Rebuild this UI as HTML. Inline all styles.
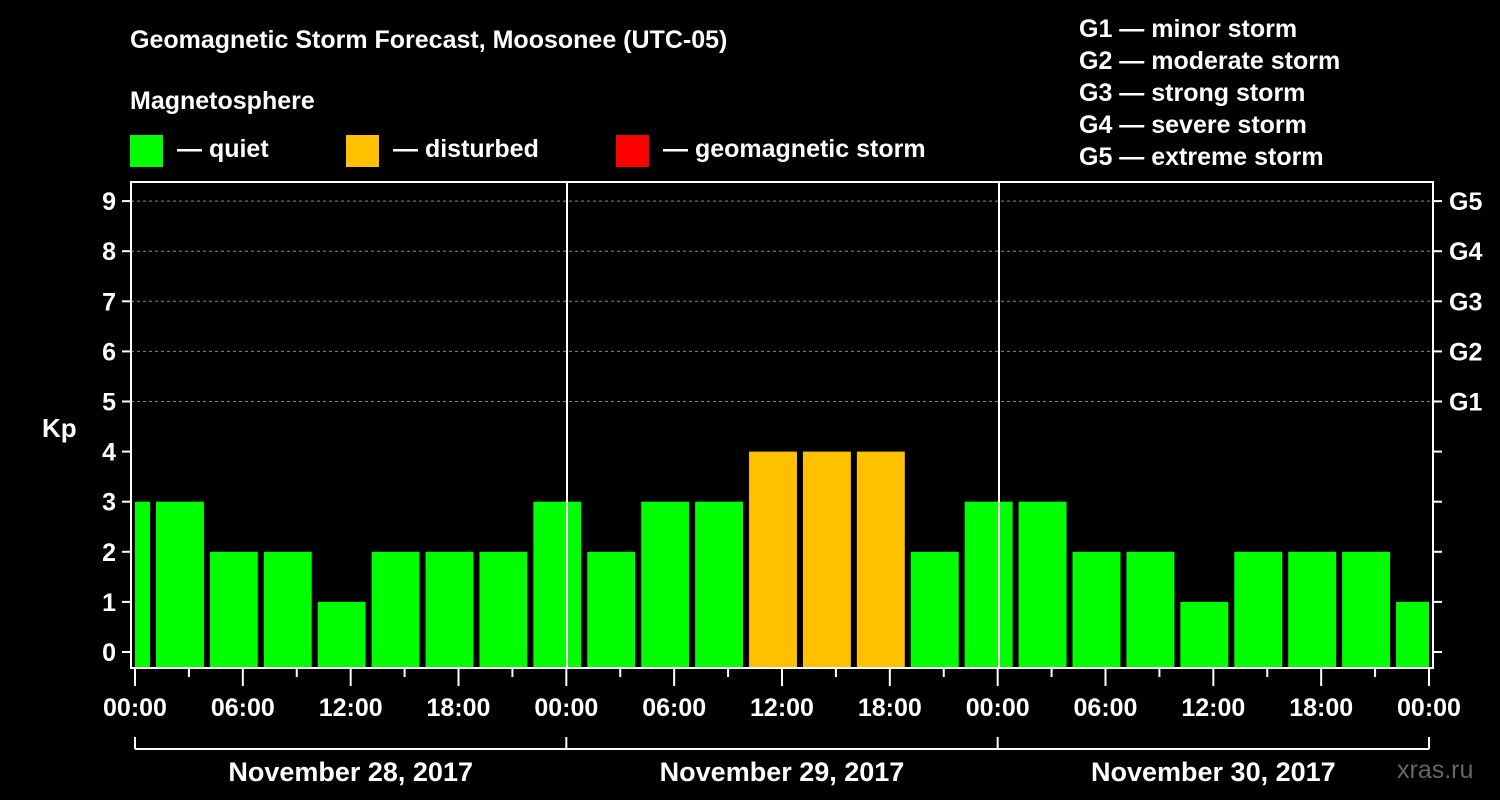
<!DOCTYPE html>
<html><head><meta charset="utf-8"><style>
body{margin:0;background:#000;width:1500px;height:800px;overflow:hidden}
svg{display:block;font-family:"Liberation Sans",sans-serif;font-weight:bold}
</style></head><body>
<svg id="c" width="1500" height="800">
<text x="130" y="48" fill="#fff" font-size="25">Geomagnetic Storm Forecast, Moosonee (UTC-05)</text>
<text x="130" y="109" fill="#fff" font-size="25">Magnetosphere</text>
<g><rect x="130" y="135" width="33" height="32" fill="#00ff00"/><text x="177" y="157" fill="#fff" font-size="25">— quiet</text></g>
<g><rect x="346" y="135" width="33" height="32" fill="#ffc000"/><text x="393" y="157" fill="#fff" font-size="25">— disturbed</text></g>
<g><rect x="616" y="135" width="33" height="32" fill="#ff0000"/><text x="663" y="157" fill="#fff" font-size="25">— geomagnetic storm</text></g>
<g fill="#fff" font-size="25">
<text x="1079" y="37">G1 — minor storm</text><text x="1079" y="69">G2 — moderate storm</text><text x="1079" y="101">G3 — strong storm</text><text x="1079" y="133">G4 — severe storm</text><text x="1079" y="165">G5 — extreme storm</text></g>
<text x="42" y="437" fill="#fff" font-size="26">Kp</text>
<text x="1397" y="778" fill="#666" font-size="25" font-weight="normal">xras.ru</text>
<g id="plot"></g>
</svg>
<script>
const startHours=[-2,1,4,7,10,13,16,19,22,25,28,31,34,37,40,43,46,49,52,55,58,61,64,67,70];
const kpValues=[3,3,2,2,1,2,2,2,3,2,3,3,4,4,4,2,3,3,2,2,1,2,2,2,1];
const yTicks=[0,1,2,3,4,5,6,7,8,9];
const gLabels=["","","","","","G1","G2","G3","G4","G5"];
const xTickLabels=["00:00","06:00","12:00","18:00","00:00","06:00","12:00","18:00","00:00","06:00","12:00","18:00","00:00"];
const dayLabels=["November 28, 2017","November 29, 2017","November 30, 2017"];
const NS="http://www.w3.org/2000/svg";
const g=document.getElementById('plot');
const X=h=>135+h*(1294/72);
const Y=v=>652-v*50.1;
function el(t,a){const e=document.createElementNS(NS,t);for(const k in a)e.setAttribute(k,a[k]);g.appendChild(e);return e;}
yTicks.forEach((v,i)=>{
 if(v>=5){const l=el('line',{x1:131,x2:1433,y1:Y(v),y2:Y(v),stroke:'#888','stroke-dasharray':'3,3'});
 
 }
 const t=el('line',{x1:122,x2:131,y1:Y(v),y2:Y(v),stroke:'#fff','stroke-width':2});
 
 
 const t2=el('line',{x1:1433,x2:1442,y1:Y(v),y2:Y(v),stroke:'#fff','stroke-width':2});
 
 
 const lb=el('text',{x:116,y:Y(v)+9,fill:'#fff','font-size':25,'text-anchor':'end'});lb.textContent=v;
 
 
 if(gLabels[i]){const gl=el('text',{x:1449,y:Y(v)+9,fill:'#fff','font-size':25});gl.textContent=gLabels[i];
 
 }
});
startHours.forEach((s,i)=>{
 const a=Math.max(0,s),b=Math.min(72,s+3);
 const x1=X(a)+(s<0?0:3),x2=X(b)-(s+3>72?0:3);
 const v=kpValues[i];
 const r=el('rect',{x:x1,y:Y(v),width:x2-x1,height:668-Y(v),fill:v>=5?'#ff0000':v>=4?'#ffc000':'#00ff00'});
 
 
});
[567,999].forEach(x=>{const l=el('line',{x1:x,x2:x,y1:182,y2:668,stroke:'#fff','stroke-width':2});
 
 });
const box=el('rect',{x:131,y:182,width:1302,height:486,fill:'none',stroke:'#fff','stroke-width':2});


for(let h=0;h<=72;h+=3){const t=el('line',{x1:X(h),x2:X(h),y1:668,y2:h%6==0?686:677,stroke:'#fff','stroke-width':2});
 
 }
xTickLabels.forEach((s,i)=>{const t=el('text',{x:X(i*6),y:716,fill:'#fff','font-size':25,'text-anchor':'middle'});t.textContent=s;
 
 });
const br=el('line',{x1:X(0),x2:X(72),y1:749,y2:749,stroke:'#fff','stroke-width':2});


[0,24,48,72].forEach(h=>{const t=el('line',{x1:X(h),x2:X(h),y1:737,y2:749,stroke:'#fff','stroke-width':2});
 
 });
dayLabels.forEach((s,i)=>{const t=el('text',{x:X(i*24+12),y:781,fill:'#fff','font-size':27,'text-anchor':'middle'});t.textContent=s;
 
 });
</script>
</body></html>
